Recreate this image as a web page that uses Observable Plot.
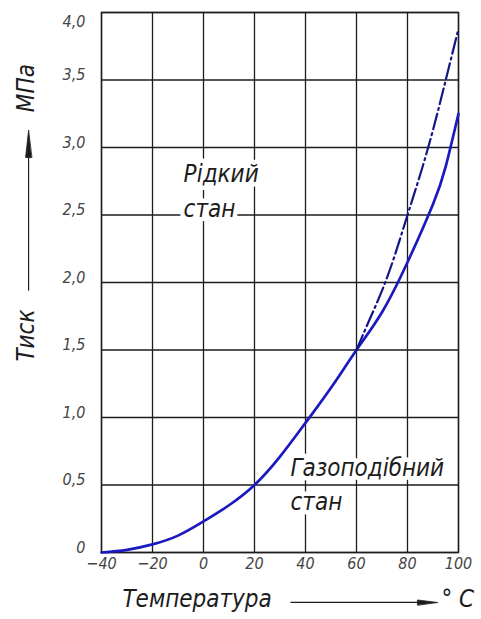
<!DOCTYPE html>
<html>
<head>
<meta charset="utf-8">
<script src="https://cdn.jsdelivr.net/npm/d3@7"></script>
<script src="https://cdn.jsdelivr.net/npm/@observablehq/plot@0.6"></script>
<style>
  html, body { margin: 0; padding: 0; background: white; }
</style>
</head>
<body>
<div id="chart"></div>
<script>
// ---- data ----
const temps = [-40, -30, -20, -10, 0, 10, 20, 30, 40, 50, 60, 70, 80, 90, 95, 100];
const pressureSolid = [0, 0.02, 0.06, 0.125, 0.23, 0.35, 0.5, 0.71, 0.96, 1.22, 1.5, 1.78, 2.15, 2.58, 2.86, 3.25];
const tempsDash = [60, 65, 70, 75, 80, 85, 90, 95, 100];
const pressureDash = [1.5, 1.72, 1.94, 2.2, 2.5, 2.8, 3.13, 3.5, 3.88];
const xTicks = [-40, -20, 0, 20, 40, 60, 80, 100];
const yTicks = [0, 0.5, 1, 1.5, 2, 2.5, 3, 3.5, 4];
const xTitle = "Температура";
const xUnit = "° C";
const yTitle = "Тиск";
const yUnit = "МПа";
const liquidLabel = ["Рідкий", "стан"];
const gasLabel = ["Газоподібний", "стан"];

// ---- build ----
const solid = temps.map((t, i) => ({t, p: pressureSolid[i]}));
const dash = tempsDash.map((t, i) => ({t, p: pressureDash[i]}));
const F = "'DejaVu Sans Condensed', 'DejaVu Sans', sans-serif";
const ink = "#1c1c1c";
const lineColor = "#1a1ac0";
const fmtX = d => d < 0 ? "\u2212" + Math.abs(d) : String(d);
const fmtY = d => d === 0 ? "0" : d.toFixed(1).replace(".", ",");

// slim filled arrow head
const slimHead = {
  draw(context, l, r) {
    context.moveTo(0, -l);
    context.lineTo(-r, 0);
    context.lineTo(r, 0);
    context.closePath();
  }
};

// annotation anchors (data units)
const labels = [
  {x: -7.8, y: 2.80, text: liquidLabel[0]},
  {x: -7.8, y: 2.54, text: liquidLabel[1]},
  {x: 34.1, y: 0.62, text: gasLabel[0]},
  {x: 34.1, y: 0.37, text: gasLabel[1]}
];
const xArrow = [{x1: 34.1, x2: 83.9, y: -0.37}];
const yArrow = [{x: -68.6, y1: 1.94, y2: 2.926}];

const chart = Plot.plot({
  width: 481,
  height: 619,
  marginLeft: 101,
  marginRight: 23,
  marginTop: 12,
  marginBottom: 67,
  x: {domain: [-40, 100]},
  y: {domain: [0, 4]},
  style: {fontFamily: F, fontStyle: "italic", background: "white", overflow: "visible", color: ink},
  marks: [
    Plot.gridX(xTicks, {stroke: ink, strokeOpacity: 1, strokeWidth: 1.3}),
    Plot.gridY(yTicks, {stroke: ink, strokeOpacity: 1, strokeWidth: 1.3}),
    Plot.frame({stroke: ink, strokeWidth: 1.4}),
    Plot.axisX(xTicks, {tickSize: 0, tickPadding: 5, fontSize: 16, fill: "#444", tickFormat: fmtX, label: null}),
    Plot.axisY(yTicks.filter(d => d < 4), {tickSize: 0, tickPadding: 16, fontSize: 16, dy: -5, fill: "#444", tickFormat: fmtY, label: null}),
    Plot.axisY([4], {tickSize: 0, tickPadding: 16, fontSize: 16, dy: 9, fill: "#444", tickFormat: fmtY, label: null}),
    Plot.text(labels, {x: "x", y: "y", text: "text", textAnchor: "start", fontSize: 24, fontStyle: "italic", fill: ink, stroke: "white", strokeWidth: 9}),
    Plot.line(solid, {x: "t", y: "p", curve: "natural", stroke: lineColor, strokeWidth: 2.7}),
    Plot.line(dash, {x: "t", y: "p", curve: "natural", stroke: "#15158a", strokeWidth: 2.2, strokeDasharray: "16,4,2,4"}),
    // axis titles
    Plot.text([xTitle], {x: -31.8, y: -0.35, textAnchor: "start", fontSize: 24, fill: ink}),
    Plot.text([xUnit], {x: 93.3, y: -0.35, textAnchor: "start", fontSize: 24, fill: ink}),
    Plot.link(xArrow, {x1: "x1", x2: "x2", y1: "y", y2: "y", stroke: ink, strokeWidth: 1.2}),
    Plot.vector(xArrow, {x: "x2", y: "y", length: 20, rotate: 90, r: 2.5, anchor: "start", shape: slimHead, fill: ink, stroke: ink, strokeWidth: 0.8}),
    Plot.text([yTitle], {x: -69.4, y: 1.607, rotate: -90, fontSize: 24, fill: ink}),
    Plot.text([yUnit], {x: -69.4, y: 3.44, rotate: -90, fontSize: 24, fill: ink}),
    Plot.link(yArrow, {x1: "x", x2: "x", y1: "y1", y2: "y2", stroke: ink, strokeWidth: 1.2}),
    Plot.vector(yArrow, {x: "x", y: "y2", length: 27, rotate: 0, r: 3, anchor: "start", shape: slimHead, fill: ink, stroke: ink, strokeWidth: 0.8})
  ]
});
document.getElementById("chart").appendChild(chart);
</script>
</body>
</html>
